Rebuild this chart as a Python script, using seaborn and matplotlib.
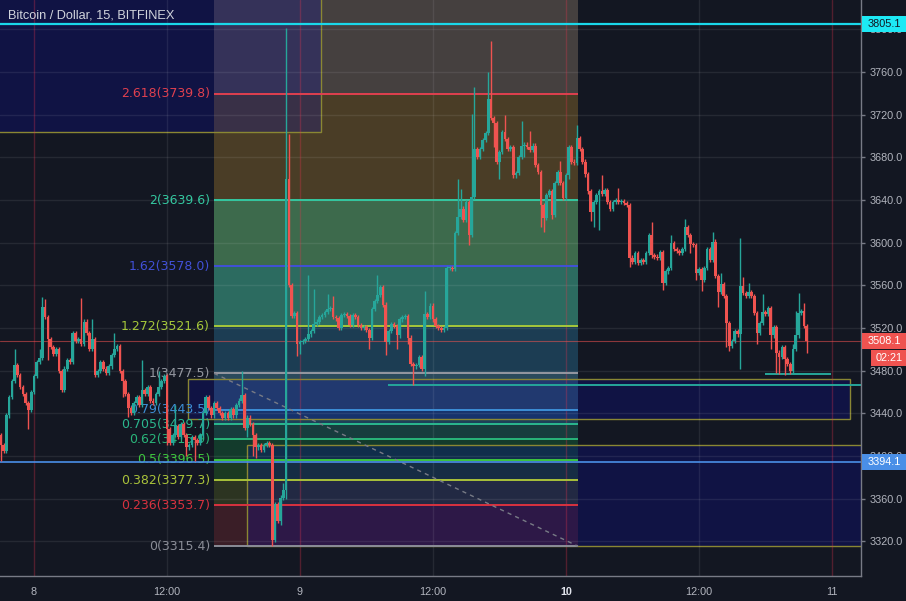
import numpy as np
import pandas as pd
import matplotlib
matplotlib.use("Agg")
import matplotlib.pyplot as plt
import matplotlib.transforms as mtrans
from matplotlib.patches import Rectangle
import seaborn as sns

BG = '#131722'
UP, DOWN = '#26a69a', '#ef5350'

# 15 minute closes, BTC/USD Bitfinex, starting Dec 7 21:00
close_a = [3410, 3405, 3438, 3455, 3470, 3485, 3476, 3465,
           3458, 3450, 3443, 3460, 3475, 3488, 3492, 3540,
           3530, 3510, 3502, 3496, 3500, 3480, 3462, 3482,
           3490, 3488, 3515, 3508, 3510, 3505, 3526, 3515,
           3500, 3510, 3476, 3480, 3488, 3482, 3478, 3484,
           3495, 3500, 3503, 3480, 3470, 3458, 3445, 3440,
           3450, 3455, 3448, 3462, 3458, 3465, 3452, 3450,
           3458, 3465, 3470, 3475, 3425, 3412, 3420, 3428,
           3418, 3430, 3420, 3408, 3410, 3418, 3415, 3412,
           3420, 3440, 3455, 3445, 3438, 3450]
close_b = [3445, 3440, 3436, 3440, 3436, 3444, 3438, 3448,
           3452, 3457, 3426, 3436, 3430, 3420, 3408, 3410,
           3406, 3410, 3412, 3410, 3321, 3355, 3339, 3361,
           3368, 3660, 3560, 3531, 3534, 3505, 3507, 3508,
           3510, 3514, 3517, 3524, 3526, 3530, 3532, 3535,
           3538, 3539, 3530, 3529, 3520, 3532, 3533, 3531,
           3523, 3532, 3530, 3523, 3520, 3521, 3518, 3511,
           3538, 3545, 3551, 3558, 3542, 3507, 3517, 3524,
           3522, 3513, 3528, 3530, 3531, 3511, 3486, 3484,
           3485, 3493, 3482, 3533, 3530, 3541, 3528, 3522,
           3520]
close_c = [3518, 3520, 3576, 3576, 3575, 3609, 3624, 3632,
           3621, 3638, 3607, 3643, 3688, 3680, 3688, 3696,
           3703, 3735, 3717, 3712, 3676, 3685, 3704, 3697,
           3688, 3690, 3663, 3665, 3680, 3691, 3692, 3690,
           3687, 3691, 3673, 3666, 3635, 3623, 3645, 3648,
           3626, 3656, 3666, 3656, 3642, 3663, 3690, 3676,
           3675, 3698, 3688, 3676, 3664, 3648, 3629, 3638,
           3645, 3648, 3646, 3649, 3638, 3632, 3638, 3640,
           3638, 3639, 3637, 3635, 3586, 3582, 3590, 3581,
           3584, 3582, 3590]
close_d = [3607, 3588, 3587, 3586, 3591, 3562, 3573, 3576,
           3600, 3594, 3592, 3590, 3594, 3615, 3607, 3599,
           3598, 3572, 3575, 3565, 3576, 3594, 3584, 3601,
           3569, 3554, 3561, 3550, 3525, 3503, 3508, 3517,
           3514, 3559, 3553, 3550, 3554, 3550, 3534, 3515,
           3525, 3535, 3533, 3539, 3513, 3521, 3497, 3493,
           3502, 3491, 3486, 3480, 3500, 3513, 3534, 3536,
           3522, 3508]
first_open = 3420

# long wicks (bar index, price)
spike_hi = [(5, 3500), (14, 3500), (15, 3549), (16, 3547), (29, 3548), (33, 3528),
            (41, 3515), (51, 3490), (57, 3480), (63, 3448), (87, 3480), (102, 3375),
            (103, 3801), (104, 3702), (105, 3545), (111, 3570), (113, 3557), (118, 3552),
            (120, 3550), (136, 3570), (153, 3555), (156, 3540), (165, 3660), (166, 3650),
            (170, 3721), (171, 3746), (172, 3690), (176, 3760), (177, 3789), (182, 3720),
            (188, 3714), (191, 3705), (202, 3677), (208, 3710), (217, 3663), (223, 3651),
            (235, 3619), (242, 3607), (247, 3622), (257, 3610), (260, 3572), (267, 3604),
            (268, 3568), (270, 3562), (275, 3552), (286, 3505), (287, 3536), (288, 3553),
            (290, 3543)]
spike_lo = [(0, 3395), (2, 3420), (10, 3425), (17, 3490), (44, 3455), (46, 3437),
            (60, 3410), (67, 3400), (70, 3395), (89, 3418), (91, 3400), (92, 3398),
            (98, 3316), (99, 3331), (101, 3335), (103, 3360), (107, 3494), (108, 3496),
            (133, 3500), (139, 3495), (143, 3500), (147, 3505), (149, 3467), (153, 3475),
            (161, 3522), (169, 3598), (178, 3690), (180, 3660), (189, 3680), (195, 3615),
            (196, 3610), (199, 3622), (205, 3660), (213, 3620), (214, 3615), (216, 3612),
            (227, 3577), (239, 3556), (249, 3590), (251, 3565), (253, 3555), (259, 3540),
            (262, 3502), (263, 3498), (267, 3482), (273, 3505), (278, 3500), (280, 3478),
            (281, 3477), (283, 3476), (285, 3477), (291, 3497)]

fib_names = ['0', '0.236', '0.382', '0.5', '0.62', '0.705', '0.79', '1',
             '1.272', '1.62', '2', '2.618']
fib_prices = [3315.4, 3353.7, 3377.3, 3396.5, 3415.9, 3429.7, 3443.5, 3477.5,
              3521.6, 3578.0, 3639.6, 3739.8]
fib_colors = ['#8a8d97', '#d8323f', '#a9c23a', '#3ec63e', '#29b57a', '#2bb88f',
              '#3d8fd6', '#9598a1', '#a6c83a', '#4150d8', '#34c8a0', '#e0404f']
band_colors = ['#3a1e27', '#2c3421', '#1b3a22', '#133b2c', '#173d3e', '#1c4058',
               '#2a4a5c', '#1c3d53', '#2c6b60', '#3d6a4c', '#4a3d26', '#45403f']
fib_top = 3901.9

price_ticks = list(range(3320, 3801, 40))
time_ticks = [0, 12, 24, 36, 48, 60, 72]
time_labels = ['8', '12:00', '9', '12:00', '10', '12:00', '11']

# ---- build OHLC
closes = np.array(close_a + close_b + close_c + close_d, dtype=float)
opens = np.concatenate([[first_open], closes[:-1]])
highs = np.maximum(opens, closes) + 2
lows = np.minimum(opens, closes) - 2
for i, v in spike_hi:
    highs[i] = max(highs[i], v)
for i, v in spike_lo:
    lows[i] = min(lows[i], v)
times = pd.date_range('2018-12-07 21:00', periods=len(closes), freq='15min')
hours = ((times - pd.Timestamp('2018-12-08')) / pd.Timedelta(hours=1)).values
df = pd.DataFrame({'h': hours, 'open': opens, 'high': highs, 'low': lows, 'close': closes})
df['up'] = df['close'] >= df['open']

sns.set_theme(style='dark', rc={'axes.facecolor': BG, 'figure.facecolor': BG,
                                'axes.edgecolor': '#787b86', 'savefig.facecolor': BG})
plt.rcParams['font.family'] = ['Liberation Sans', 'DejaVu Sans']

fig = plt.figure(figsize=(9.06, 6.01), dpi=100)
ax = fig.add_axes([0, 25 / 601, 861 / 906, 576 / 601])
ax.set_xlim(-3.07, 74.64)
ax.set_ylim(3287.5, 3827.5)

# grid
for p in price_ticks:
    ax.axhline(p, color='white', alpha=0.08, lw=1, zorder=1)
for t in [12, 36, 60]:
    ax.axvline(t, color='white', alpha=0.08, lw=1, zorder=1)
for t in [0, 24, 48, 72]:
    ax.axvline(t, color=(0.9, 0.2, 0.3), alpha=0.3, lw=1, zorder=1)

# fib retracement
f0, f1 = 16.25, 49.1
tops = fib_prices[1:] + [fib_top]
for lo, hi, c in zip(fib_prices, tops, band_colors):
    ax.add_patch(Rectangle((f0, lo), f1 - f0, hi - lo, fc=c, lw=0, zorder=0.5))
for name, p, c in zip(fib_names, fib_prices, fib_colors):
    ax.hlines(p, f0, f1, color=c, lw=1.4, zorder=2)
    ax.annotate(f'{name}({p:.1f})', xy=(f0, p), xytext=(-3, 0), textcoords='offset points',
                ha='right', va='center', color=c, fontsize=9, family='DejaVu Sans', zorder=1.5)
ax.plot([f0, f1], [fib_prices[7], fib_prices[0]], ls=(0, (3, 3)), color='#787b86', lw=1, zorder=2)

# rectangles
navy = (8 / 255, 10 / 255, 170 / 255, 0.25)
for t0, t1, lo, hi in [(-6, 25.9, 3704.2, 3900), (13.9, 73.65, 3434.7, 3472.2),
                       (19.18, 80, 3316.0, 3410.3)]:
    ax.add_patch(Rectangle((t0, lo), t1 - t0, hi - lo, fc=navy, ec='#8a8733', lw=1, zorder=0.8))

# horizontal lines
for t0, t1, p in [(31.95, 80, 3466.6), (66.0, 71.9, 3476.9)]:
    ax.hlines(p, t0, t1, color=UP, lw=1.4, zorder=2)
ax.axhline(3805.1, color='#1ad8ea', lw=1.6, zorder=2)
ax.axhline(3394.1, color='#4a8fe7', lw=1.2, zorder=2)
ax.axhline(3508.1, color=DOWN, lw=0.8, alpha=0.55, zorder=2.5)

# candles
cols = np.where(df['up'], UP, DOWN)
ax.vlines(df['h'], df['low'], df['high'], colors=cols, lw=1.0, zorder=3)
body = (df['close'] - df['open']).abs().clip(lower=0.8)
ax.bar(df['h'], body, bottom=df[['open', 'close']].min(axis=1), width=0.24,
       color=cols, lw=0, zorder=3.1)

# axes styling
for s in ['top', 'left']:
    ax.spines[s].set_visible(False)
for s in ['right', 'bottom']:
    ax.spines[s].set_color('#787b86')
    ax.spines[s].set_linewidth(1)
ax.yaxis.tick_right()
ax.set_yticks(price_ticks)
ax.set_yticklabels([f'{v:.1f}' for v in price_ticks])
ax.set_xticks(time_ticks)
ax.set_xticklabels(time_labels)
ax.tick_params(axis='y', length=3, width=1, color='#787b86', labelcolor='#b2b5be',
               labelsize=7.8, pad=3)
ax.tick_params(axis='x', length=3, width=1, color='#787b86', labelcolor='#b2b5be',
               labelsize=7.8, pad=5)
lab10 = ax.get_xticklabels()[4]
lab10.set_fontweight('bold')
lab10.set_color('#e0e3eb')
ax.set_xlabel('')
ax.set_ylabel('')

fig.text(8 / 906, 1 - 16 / 601, 'Bitcoin / Dollar, 15, BITFINEX', color='#d1d4dc',
         fontsize=9.2, va='center', ha='left')

# price tags on the axis
fig.canvas.draw()
ppp = (ax.transData.transform((0, 3400))[1] - ax.transData.transform((0, 3360))[1]) / 40
tb = mtrans.blended_transform_factory(fig.transFigure, ax.transData)


def tag(price, text, fc, tc, x0=862, dy=0):
    h = 16 / ppp
    yc = price + dy / ppp
    fig.patches.append(Rectangle((x0 / 906, yc - h / 2), (906 - x0) / 906, h, transform=tb,
                                 fc=fc, lw=0, zorder=5, figure=fig))
    fig.text(868 / 906 if x0 < 866 else (x0 + 5) / 906, yc, text, transform=tb, color=tc,
             fontsize=7.8, va='center', ha='left', zorder=6)


tag(3805.1, '3805.1', '#1de9f5', '#131722')
tag(3508.1, '3508.1', DOWN, 'white')
tag(3508.1, '02:21', DOWN, 'white', x0=871, dy=-17)
tag(3394.1, '3394.1', '#4a8fe7', 'white')

fig.savefig('out.png', dpi=100, facecolor=BG)
